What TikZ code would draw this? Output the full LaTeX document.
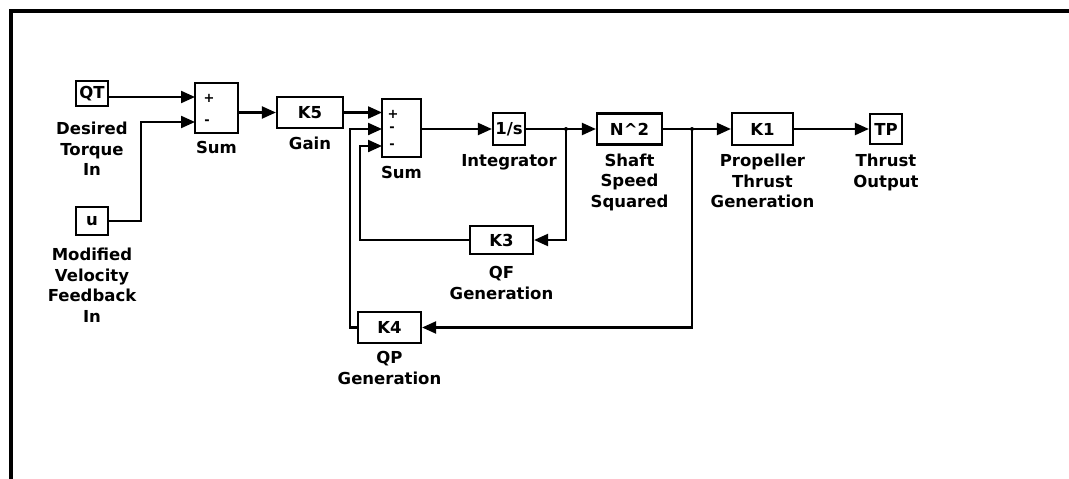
\documentclass[tikz,border=0pt]{standalone}
\usepackage{fontspec}
\setmainfont{DejaVu Sans}
\usetikzlibrary{arrows.meta,positioning}
\begin{document}
\begin{tikzpicture}[x=1pt, y=-1pt, >={Triangle[length=14pt,width=12pt]},
  blk/.style={draw, line width=2.2pt, inner sep=0pt, font=\bfseries\fontsize{16.5}{20.5}\selectfont},
  lbl/.style={inner sep=0pt, align=center, font=\bfseries\fontsize{16.5}{20.5}\selectfont},
  sgn/.style={inner sep=0pt, font=\bfseries\fontsize{13}{13}\selectfont},
  wire/.style={line width=2.2pt}]
\useasboundingbox (0,0) rectangle (1069,479);
% Rahmen
\draw[line width=3.5pt] (1069,11) -- (11,11) -- (11,479);
% Eingaenge
\node[blk, minimum width=32pt, minimum height=25pt] (qt) at (92,93.5) {QT};
\node[blk, minimum width=32pt, minimum height=28pt] (u) at (92,221) {u};
\node[lbl, below=15pt of qt] (qtlab) {Desired\\Torque\\In};
\node[lbl, below=12pt of u] (ulab) {Modified\\Velocity\\Feedback\\In};
% Summierer 1 und Gain
\node[blk, minimum width=43pt, minimum height=50pt] (sum1) at (216.5,108) {};
\node[sgn] (sum1p) at (209,98) {+};
\node[sgn] (sum1m) at (207,122) {-};
\node[lbl, below=7pt of sum1] (sum1lab) {Sum};
\node[blk, minimum width=66pt, minimum height=31pt] (k5) at (310,112.5) {K5};
\node[lbl, below=8pt of k5] (k5lab) {Gain};
% Summierer 2
\node[blk, minimum width=39pt, minimum height=58pt] (sum2) at (401.5,128) {};
\node[sgn] (sum2p) at (393,114) {+};
\node[sgn] (sum2m) at (392,129) {-};
\node[sgn] (sum2n) at (392,146) {-};
\node[lbl, below=8pt of sum2] (sum2lab) {Sum};
% Hauptzweig
\node[blk, minimum width=32pt, minimum height=32pt] (integ) at (509,129) {1/s};
\node[lbl, below=8pt of integ] (integlab) {Integrator};
\node[blk, minimum width=65pt, minimum height=31pt] (sq) at (629.5,129) {N\textasciicircum 2};
\node[lbl, below=8pt of sq] (sqlab) {Shaft\\Speed\\Squared};
\node[blk, minimum width=61pt, minimum height=32pt] (k1) at (762.5,129) {K1};
\node[lbl, below=8pt of k1] (k1lab) {Propeller\\Thrust\\Generation};
\node[blk, minimum width=32pt, minimum height=30pt] (tp) at (886,129) {TP};
\node[lbl, below=9pt of tp] (tplab) {Thrust\\Output};
% Rueckfuehrungen
\node[blk, minimum width=63pt, minimum height=28pt] (k3) at (501.5,240) {K3};
\node[lbl, below=11pt of k3] (k3lab) {QF\\Generation};
\node[blk, minimum width=63pt, minimum height=31pt] (k4) at (389.5,327.5) {K4};
\node[lbl, below=7pt of k4] (k4lab) {QP\\Generation};
% Eingangspunkte und Verzweigungen
\coordinate (s1a) at (195,97);
\coordinate (s1b) at (195,122);
\coordinate (s2a) at (382,112.5);
\coordinate (s2b) at (382,129);
\coordinate (s2c) at (382,146);
\coordinate (brA) at (566,129);
\coordinate (brB) at (692,129);
% Verbindungen
\draw[wire,->] (qt.east |- s1a) -- (s1a);
\draw[wire,->] (u.east) -- ++(32,0) |- (s1b);
\draw[wire,->] (sum1.east |- k5) -- (k5.west);
\draw[wire,->] (k5.east) -- (s2a);
\draw[wire,->] (sum2.east |- integ) -- (integ.west);
\draw[wire] (integ.east) -- (brA);
\draw[wire,->] (brA) -- (sq.west);
\draw[wire,->] (brA) |- (k3.east);
\draw[wire,->] (k3.west) -| ([xshift=-22pt]s2c) -- (s2c);
\draw[wire] (sq.east) -- (brB);
\draw[wire,->] (brB) -- (k1.west);
\draw[wire,->] (brB) |- (k4.east);
\draw[wire,->] (k4.west) -| ([xshift=-32pt]s2b) -- (s2b);
\draw[wire,->] (k1.east) -- (tp.west);
\fill (brA) circle (2pt);
\fill (brB) circle (2pt);
\end{tikzpicture}
\end{document}
